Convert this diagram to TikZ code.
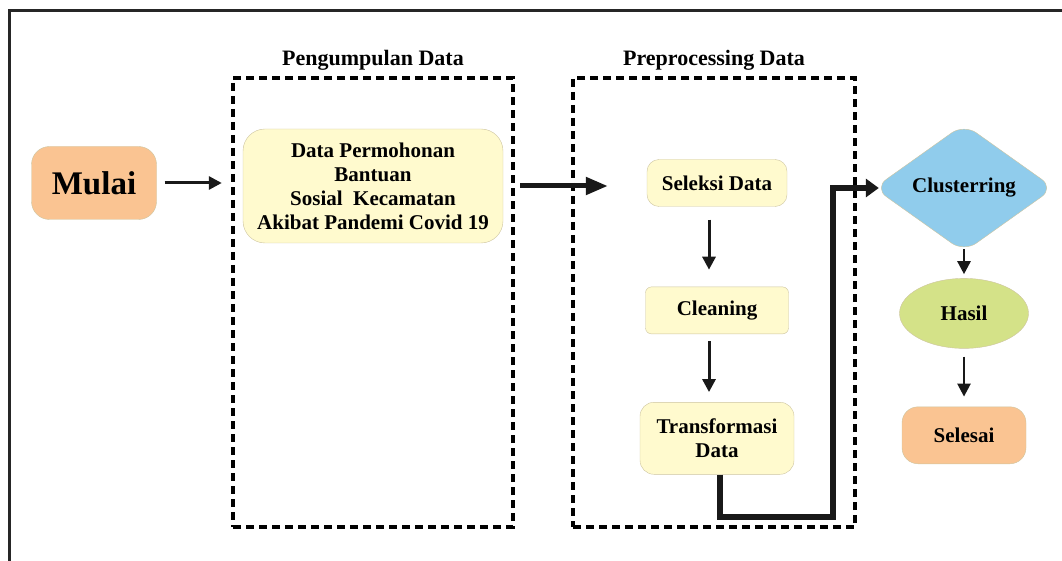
\documentclass[tikz,border=0pt]{standalone}
\usepackage{fontspec}
\setmainfont{Liberation Serif}
\usetikzlibrary{arrows.meta,shapes.geometric,positioning}
\definecolor{oranye}{RGB}{250,196,146}
\definecolor{kuning}{RGB}{255,250,206}
\definecolor{biru}{RGB}{144,204,236}
\definecolor{hijau}{RGB}{212,226,136}
\definecolor{garis}{RGB}{205,196,160}
\tikzset{
  basic/.style     = {draw=garis, thin, font=\bfseries\fontsize{21}{24}\selectfont,
                      align=center, inner sep=2pt},
  terminal/.style  = {basic, rectangle, rounded corners=18pt, fill=oranye},
  proses/.style    = {basic, rectangle, fill=kuning},
  keputusan/.style = {basic, diamond, rounded corners=15pt, fill=biru, inner sep=0pt},
  oval/.style      = {basic, ellipse, fill=hijau},
  grup/.style      = {draw, line width=3.5pt, dash pattern=on 8pt off 5pt,
                      minimum width=280pt, minimum height=449pt},
  judul/.style     = {font=\bfseries\fontsize{22}{26}\selectfont, inner sep=2pt},
  panah/.style     = {-{Triangle[length=13pt,width=13pt]}, line width=3pt, black!90},
  panah besar/.style = {-{Triangle[length=22pt,width=17pt]}, line width=5pt, black!90},
  jalur/.style     = {-{Triangle[length=13pt,width=18pt]}, line width=6pt, black!90}
}

\begin{document}
\begin{tikzpicture}[x=1pt, y=-1pt]
\useasboundingbox (0,0) rectangle (1062,561);

% bingkai luar
\draw[line width=3pt, black!85] (9,561) |- (1062,11);

% kotak kelompok dan judulnya
\node[grup] (g1) at (373,302.5) {};
\node[grup, minimum width=282pt] (g2) at (714,302.5) {};
\node[judul, above=4pt of g1] (j1) {Pengumpulan Data};
\node[judul, above=4pt of g2] (j2) {Preprocessing Data};

% node utama
\node[terminal, minimum width=125pt, minimum height=73pt,
      font=\bfseries\fontsize{33}{36}\selectfont] (mulai) at (94,183) {Mulai};
\node[proses, rounded corners=22pt, minimum width=260pt, minimum height=114pt] (data) at (373,186)
  {Data Permohonan\\Bantuan\\Sosial\ \ Kecamatan\\Akibat Pandemi Covid 19};

% tahap preprocessing, posisi relatif
\node[proses, rounded corners=12pt, minimum width=140pt, minimum height=47pt] (seleksi) at (717,183) {Seleksi Data};
\node[proses, rounded corners=6pt, minimum width=143pt, minimum height=47pt,
      below=80pt of seleksi] (cleaning) {Cleaning};
\node[proses, rounded corners=14pt, minimum width=154pt, minimum height=72pt,
      below=68pt of cleaning] (transformasi) {Transformasi\\Data};

% clustering sampai selesai
\node[keputusan, minimum width=180pt, minimum height=128pt] (clustering) at (964,188) {Clusterring};
\node[oval, minimum width=129pt, minimum height=70pt, below=26pt of clustering] (hasil) {Hasil};
\node[terminal, rounded corners=16pt, minimum width=124pt, minimum height=57pt,
      below=58pt of hasil] (selesai) {Selesai};
\coordinate (belok) at (833,517);

% panah
\draw[panah, shorten <=8pt, shorten >=21pt] (mulai.east) -- (mulai.east -| data.west);
\draw[panah besar, shorten <=17pt, shorten >=39pt] (data.east) -- (data.east -| seleksi.west);
\foreach \a/\b/\s/\t in {seleksi/cleaning/13/17, cleaning/transformasi/7/10}
  \draw[panah, shorten <=\s pt, shorten >=\t pt] ([xshift=-8pt]\a.south) -- ([xshift=-8pt]\a.south |- \b.north);
\draw[jalur, shorten >=-5pt] ([xshift=3pt]transformasi.south) |- (belok) |- (clustering.west);
\draw[panah, line width=2.5pt, shorten <=-3pt, shorten >=4pt] (clustering.south) -- (clustering.south |- hasil.north);
\draw[panah, line width=2.5pt, shorten <=8pt, shorten >=10pt] (hasil.south) -- (hasil.south |- selesai.north);
\end{tikzpicture}
\end{document}
